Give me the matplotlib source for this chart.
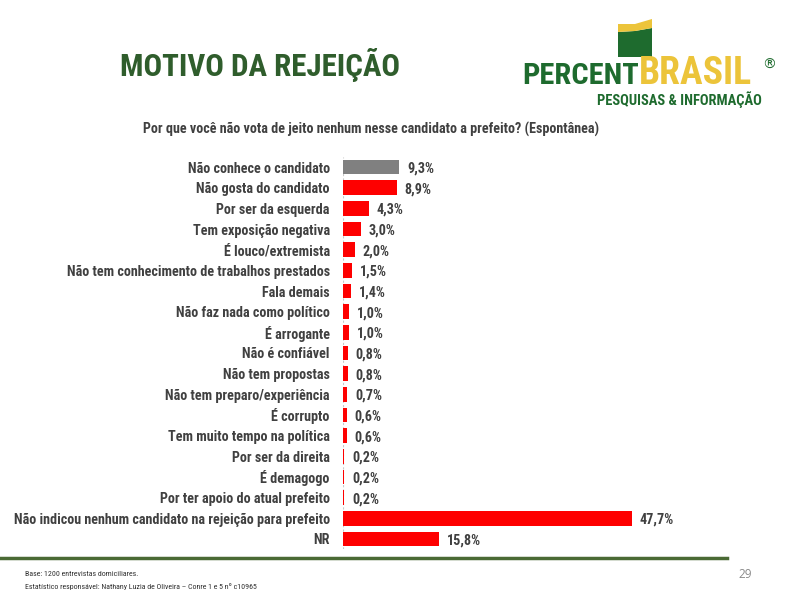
import matplotlib
matplotlib.use("Agg")
import matplotlib.pyplot as plt
from matplotlib import font_manager
from matplotlib.patches import Polygon

categories = [
    "Não conhece o candidato",
    "Não gosta do candidato",
    "Por ser da esquerda",
    "Tem exposição negativa",
    "É louco/extremista",
    "Não tem conhecimento de trabalhos prestados",
    "Fala demais",
    "Não faz nada como político",
    "É arrogante",
    "Não é confiável",
    "Não tem propostas",
    "Não tem preparo/experiência",
    "É corrupto",
    "Tem muito tempo na política",
    "Por ser da direita",
    "É demagogo",
    "Por ter apoio do atual prefeito",
    "Não indicou nenhum candidato na rejeição para prefeito",
    "NR",
]
values = [9.3, 8.9, 4.3, 3.0, 2.0, 1.5, 1.4, 1.0, 1.0, 0.8, 0.8, 0.7, 0.6, 0.6, 0.2, 0.2, 0.2, 47.7, 15.8]
value_labels = ["9,3%", "8,9%", "4,3%", "3,0%", "2,0%", "1,5%", "1,4%", "1,0%", "1,0%", "0,8%",
                "0,8%", "0,7%", "0,6%", "0,6%", "0,2%", "0,2%", "0,2%", "47,7%", "15,8%"]
colors = ["#808080"] + ["#fe0000"] * 18

# pick a condensed font if one is installed
fonts = font_manager.fontManager.ttflist
names = {f.name for f in fonts}
FONT = {"family": "Liberation Sans"}
for cand in ["Liberation Sans Narrow", "Roboto Condensed", "Open Sans Condensed", "Arial Narrow"]:
    if cand in names:
        FONT = {"family": cand}
        break
else:
    if any(f.name == "DejaVu Sans" and f.stretch == "condensed" for f in fonts):
        FONT = {"family": "DejaVu Sans", "stretch": "condensed"}

W, H = 799, 600
fig = plt.figure(figsize=(W / 100, H / 100), dpi=100)
fig.patch.set_facecolor("white")
renderer = fig.canvas.get_renderer()


def fit(text, target_px, weight="bold"):
    t = fig.text(0, 0, text, fontsize=10, fontweight=weight, **FONT)
    w = t.get_window_extent(renderer).width
    t.remove()
    return 10 * target_px / w


lab_size = fit(categories[17], 317)

# axes placement (pixels)
x0, x1 = 343, 343 + 50 * 6.06
ytop, ybot = 156.7, 549.3
ax = fig.add_axes([x0 / W, 1 - ybot / H, (x1 - x0) / W, (ybot - ytop) / H])
n = len(categories)
ypos = list(range(n))
ax.barh(ypos, values, height=0.72, color=colors, edgecolor="none", zorder=2)
ax.set_xlim(0, 50)
ax.set_ylim(n - 0.5, -0.5)
ax.axvline(0, color="#c8c8c8", lw=0.8, ls=(0, (2, 2)), zorder=1)
for s in ax.spines.values():
    s.set_visible(False)
ax.set_xticks([])
ax.set_yticks(ypos)
ax.set_yticklabels(categories, fontweight="bold", fontsize=lab_size, color="#404040", **FONT)
ax.tick_params(axis="y", length=0, pad=9.5)
for y, v, lab in zip(ypos, values, value_labels):
    ax.text(v + 1.3, y, lab, va="center_baseline", ha="left", fontweight="bold",
            fontsize=lab_size, color="#404040", **FONT)

# title
title = "MOTIVO DA REJEIÇÃO"
fig.text(120 / W, 1 - 65 / H, title, fontweight="bold",
         fontsize=fit(title, 280), color="#2f5d2c", va="center", ha="left", **FONT)
# subtitle
sub = "Por que você não vota de jeito nenhum nesse candidato a prefeito? (Espontânea)"
fig.text(143 / W, 1 - 129 / H, sub, fontweight="bold", fontsize=fit(sub, 458),
         color="#404040", va="center", ha="left", **FONT)


# logo shape
def px(x, y):
    return (x / W, 1 - y / H)


green_shape = Polygon([px(618, 32), px(635, 31), px(652, 28), px(652, 57), px(618, 57)],
                      closed=True, transform=fig.transFigure, facecolor="#1e6b2e", edgecolor="none")
yellow_shape = Polygon([px(618, 24), px(635, 24), px(652, 19), px(652, 28), px(635, 31), px(618, 32)],
                       closed=True, transform=fig.transFigure, facecolor="#ecc43a", edgecolor="none")
fig.add_artist(green_shape)
fig.add_artist(yellow_shape)
fig.text(522 / W, 1 - 84 / H, "PERCENT", fontweight="bold", fontsize=fit("PERCENT", 116),
         color="#1e6b2e", va="baseline", ha="left", **FONT)
fig.text(639 / W, 1 - 84 / H, "BRASIL", fontweight="bold", fontsize=fit("BRASIL", 113),
         color="#ecc43a", va="baseline", ha="left", **FONT)
fig.text(769 / W, 1 - 65 / H, "®", fontfamily="DejaVu Sans", fontsize=10,
         color="#1e6b2e", va="center", ha="center")
pq = "PESQUISAS & INFORMAÇÃO"
fig.text(597 / W, 1 - 104.5 / H, pq, fontweight="bold", fontsize=fit(pq, 165),
         color="#1e6b2e", va="baseline", ha="left", **FONT)

# bottom line
fig.add_artist(plt.Line2D([0, 727 / W], [1 - 558 / H, 1 - 558 / H], transform=fig.transFigure,
                          color="#4a6a34", lw=2.5))
f1 = "Base: 1200 entrevistas domiciliares."
f2 = "Estatístico responsável: Nathany Luzia de Oliveira – Conre 1 e 5 nº c10965"
fsz = fit(f2, 230, weight="normal")
fig.text(25 / W, 1 - 574 / H, f1, fontsize=fsz, color="#303030", va="center", ha="left", **FONT)
fig.text(25 / W, 1 - 586 / H, f2, fontsize=fsz, color="#303030", va="center", ha="left", **FONT)
fig.text(745 / W, 1 - 574 / H, "29", fontfamily="Open Sans", fontsize=8.5, color="#8a8a8a",
         va="center", ha="center")

fig.savefig("out.png", dpi=100)
